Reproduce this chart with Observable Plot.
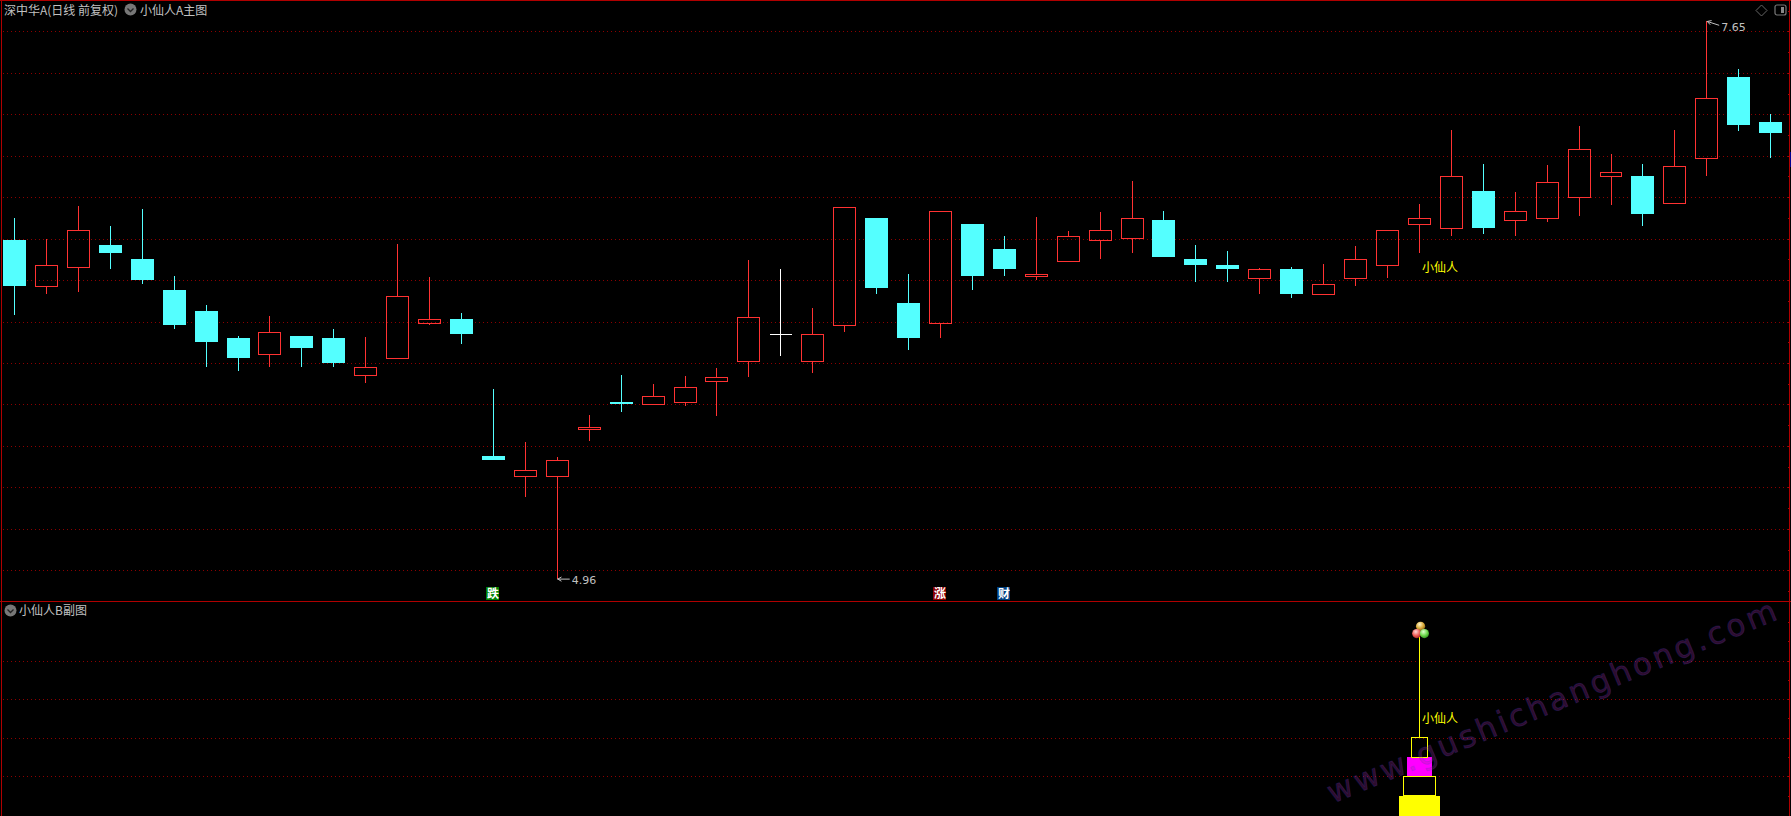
<!DOCTYPE html>
<html><head><meta charset="utf-8">
<script src="https://cdn.jsdelivr.net/npm/d3@7"></script>
<script src="https://cdn.jsdelivr.net/npm/@observablehq/plot@0.6"></script>
<style>
html,body{margin:0;padding:0;background:#000;width:1791px;height:816px;overflow:hidden;font-family:"Noto Sans CJK SC",sans-serif}
#top,#bottom{position:absolute;left:0;width:1791px}
#top{top:0;height:601px}
#bottom{top:601px;height:215px}
svg{display:block;overflow:visible;shape-rendering:crispEdges}
.smooth,.smooth *{shape-rendering:auto}
.wm text{letter-spacing:3.2px}
.lbl{position:absolute;font-size:12px;line-height:16px;color:#c0c0c0;white-space:nowrap}
.line{position:absolute;background:#b00000}
.ico{position:absolute}
</style></head>
<body>
<svg width="0" height="0" style="position:absolute" class="smooth"><defs>
<radialGradient id="ballGold" cx="40%" cy="30%" r="75%"><stop offset="0%" stop-color="#fff6c8"/><stop offset="55%" stop-color="#d9a93a"/><stop offset="100%" stop-color="#7d5a10"/></radialGradient>
<radialGradient id="ballRed" cx="40%" cy="30%" r="75%"><stop offset="0%" stop-color="#ffd8d8"/><stop offset="55%" stop-color="#f0605a"/><stop offset="100%" stop-color="#a02020"/></radialGradient>
<radialGradient id="ballGreen" cx="40%" cy="30%" r="75%"><stop offset="0%" stop-color="#e0ffd0"/><stop offset="55%" stop-color="#70d850"/><stop offset="100%" stop-color="#2a8a18"/></radialGradient>
</defs></svg>
<div id="top"></div>
<div id="bottom"></div>
<div class="line" style="left:0;top:0;width:1791px;height:1px"></div>
<div class="line" style="left:1px;top:0;width:1px;height:816px"></div>
<div class="line" style="left:1789px;top:0;width:1px;height:816px"></div>
<div class="line" style="left:0;top:601px;width:1791px;height:1px"></div>
<div class="line" style="left:1790px;top:152px;width:1px;height:15px;background:#000090"></div>
<div class="lbl" style="left:4px;top:2px">深中华A(日线 前复权)</div>
<div class="lbl" style="left:140px;top:2px">小仙人A主图</div>
<div class="lbl" style="left:19px;top:602px">小仙人B副图</div>
<svg class="ico smooth" style="left:124px;top:3px" width="13" height="13"><circle cx="6.5" cy="6.5" r="6" fill="#777"/><path d="M3.5 5.5L6.5 8.5L9.5 5.5" fill="none" stroke="#222" stroke-width="1.3"/></svg>
<svg class="ico smooth" style="left:4px;top:604px" width="13" height="13"><circle cx="6.5" cy="6.5" r="6" fill="#777"/><path d="M3.5 5.5L6.5 8.5L9.5 5.5" fill="none" stroke="#222" stroke-width="1.3"/></svg>
<svg class="ico smooth" style="left:1755px;top:4px" width="13" height="13"><path d="M6.5 1L12 6.5L6.5 12L1 6.5Z" fill="none" stroke="#666"/></svg>
<svg class="ico smooth" style="left:1774px;top:4px" width="13" height="12"><rect x="1" y="1" width="11" height="10" rx="2" fill="none" stroke="#777" stroke-width="1.2"/><rect x="7" y="3" width="3" height="6" fill="#888"/></svg>
<script>
// Daily candles, left to right (price)
const open  = [6.593,6.368,6.460,6.569,6.502,6.352,6.251,6.121,6.040,6.130,6.121,5.939,6.021,6.190,6.212,5.551,5.452,5.452,5.678,5.812,5.799,5.809,5.910,6.006,6.138,6.006,6.180,6.700,6.289,6.192,6.671,6.550,6.416,6.489,6.590,6.600,6.690,6.502,6.473,6.407,6.453,6.330,6.407,6.469,6.667,6.650,6.830,6.686,6.696,6.797,6.899,6.902,6.768,6.988,7.380,7.163];
const close = [6.371,6.471,6.640,6.531,6.400,6.183,6.101,6.024,6.148,6.072,6.000,5.979,6.322,6.211,6.140,5.532,5.482,5.531,5.690,5.802,5.839,5.883,5.931,6.220,6.138,6.138,6.751,6.362,6.121,6.732,6.420,6.453,6.428,6.611,6.640,6.698,6.511,6.473,6.453,6.452,6.333,6.380,6.500,6.640,6.698,6.901,6.651,6.732,6.872,7.031,6.920,6.719,6.949,7.277,7.148,7.110];
const high  = [6.700,6.598,6.757,6.661,6.743,6.420,6.280,6.130,6.227,6.130,6.164,6.125,6.574,6.415,6.241,5.875,5.619,5.545,5.749,5.942,5.899,5.937,5.976,6.497,6.453,6.265,6.751,6.700,6.429,6.732,6.671,6.613,6.704,6.637,6.728,6.878,6.733,6.569,6.540,6.458,6.463,6.478,6.564,6.640,6.767,7.124,6.960,6.825,6.955,7.143,7.008,6.960,7.124,7.650,7.418,7.201];
const low   = [6.232,6.333,6.343,6.453,6.381,6.164,5.981,5.961,5.981,5.981,5.981,5.904,6.021,6.183,6.092,5.532,5.354,4.960,5.624,5.764,5.799,5.794,5.746,5.932,6.035,5.952,6.150,6.333,6.063,6.121,6.352,6.420,6.400,6.489,6.502,6.531,6.511,6.391,6.391,6.333,6.314,6.330,6.371,6.410,6.531,6.613,6.622,6.613,6.680,6.709,6.762,6.661,6.768,6.902,7.119,6.989];

const priceGrid = [5.0,5.2,5.4,5.6,5.8,6.0,6.2,6.4,6.6,6.8,7.0,7.2,7.4,7.6];
const priceTicks = [4.9,5.0,5.1,5.2,5.3,5.4,5.5,5.6,5.7,5.8,5.9,6.0,6.1,6.2,6.3,6.4,6.5,6.6,6.7,6.8,6.9,7.0,7.1,7.2,7.3,7.4,7.5,7.6,7.7];

const extremeIdx = [17,53], extremePrice = [4.96,7.65], extremeText = ["4.96","7.65"], extremeTilt = [0,-0.018], extremeLabel = [4.955,7.623];
const badgeIdx = [15,29,31], badgeText = ["跌","涨","财"], badgeColor = ["#008000","#8c0000","#004080"];
const badgeLow = 4.857, badgeHigh = 4.919;
const signalIdx = 44, signalName = "小仙人", signalPrice = 6.458;

// Lower panel: stacked tower at the signal bar
const towerLow  = [-0.1,1,2,3];
const towerHigh = [1,2,3,4];
const towerHalf = [0.642,0.507,0.391,0.257];
const towerFill = ["#ffff00","none","#ff00ff","none"];
const towerStroke = ["none","#ffff00","none","#ffff00"];
const stemLow = 4, stemHigh = 9.32, signalLevel = 5;
const subGrid = [2,4,6,8];
const subTicks = [1,2,3,4,5,6,7,8,9,10];
const ballX = [44.02,43.9,44.14], ballV = [9.8,9.42,9.42], ballFill = ["url(#ballGold)","url(#ballRed)","url(#ballGreen)"];
const watermark = "www.gushichanghong.com";

const RED="#ff3232", CYAN="#54ffff", GRID="#8c0000", YEL="#ffff00", GREY="#c0c0c0";
const CJK='"Noto Sans CJK SC"';
const idx = d3.range(open.length);
const kind = i => close[i]>open[i] ? "up" : close[i]<open[i] ? "down" : "flat";
const col = i => ({up:RED,down:CYAN,flat:"#ffffff"})[kind(i)];
const xScale = {domain:[-0.4541,55.637],range:[0,1791],axis:null};
const frame = {width:1791,marginTop:0,marginRight:0,marginBottom:0,marginLeft:0,style:{background:"#000"}};
const up = idx.filter(i=>kind(i)==="up"), down = idx.filter(i=>kind(i)==="down"), flat = idx.filter(i=>kind(i)==="flat");

const topPlot = Plot.plot({...frame,height:601,
  x:xScale, y:{domain:[4.852,7.7511],range:[601,0],axis:null},
  marks:[
    Plot.ruleY(priceGrid,{y:d=>d,x1:-0.37,x2:55.55,stroke:GRID,strokeWidth:1,strokeDasharray:"1 3"}),
    Plot.ruleY(priceTicks,{y:d=>d,x1:55.55,x2:55.6,stroke:"#b00000"}),
    Plot.ruleX(idx.filter(i=>high[i]>Math.max(open[i],close[i])),{x:i=>i,y1:i=>high[i],y2:i=>Math.max(open[i],close[i]),stroke:col,strokeWidth:1,dx:-0.5}),
    Plot.ruleX(idx.filter(i=>low[i]<Math.min(open[i],close[i])),{x:i=>i,y1:i=>low[i],y2:i=>Math.min(open[i],close[i]),stroke:col,strokeWidth:1,dx:-0.5}),
    Plot.rect(up,{x1:i=>i-0.344,x2:i=>i+0.344,y1:i=>open[i],y2:i=>close[i],fill:"none",stroke:RED,strokeWidth:1}),
    Plot.rect(down,{x1:i=>i-0.36,x2:i=>i+0.36,y1:i=>open[i],y2:i=>close[i],fill:CYAN}),
    Plot.ruleY(flat,{y:i=>close[i],x1:i=>i-0.344,x2:i=>i+0.344,stroke:"#ffffff"}),
    Plot.arrow([0,1],{x1:k=>extremeIdx[k]+0.36,x2:k=>extremeIdx[k],y1:k=>extremePrice[k]+extremeTilt[k],y2:k=>extremePrice[k],bend:0,headLength:6,stroke:GREY,strokeWidth:1,className:"smooth"}),
    Plot.text([0,1],{x:k=>extremeIdx[k],y:k=>extremeLabel[k],text:k=>extremeText[k],dx:14,textAnchor:"start",fill:GREY,fontFamily:"DejaVu Sans",fontSize:11}),
    Plot.rect([0,1,2],{x1:k=>badgeIdx[k]-0.23,x2:k=>badgeIdx[k]+0.17,y1:badgeLow,y2:badgeHigh,fill:k=>badgeColor[k]}),
    Plot.text([0,1,2],{x:k=>badgeIdx[k]-0.03,y:(badgeLow+badgeHigh)/2,text:k=>badgeText[k],fill:"#fff",fontFamily:CJK,fontSize:12,fontWeight:"bold"}),
    Plot.text([0],{x:signalIdx,y:signalPrice,text:[signalName],dx:2,textAnchor:"start",fill:YEL,fontFamily:CJK,fontSize:12})
  ]});
document.getElementById("top").appendChild(topPlot);

const bottomPlot = Plot.plot({...frame,height:215,
  x:xScale, y:{domain:[-0.057,11.083],range:[215,0],axis:null},
  marks:[
    Plot.ruleY(subGrid,{y:d=>d,x1:-0.37,x2:55.55,stroke:GRID,strokeWidth:1,strokeDasharray:"1 3"}),
    Plot.ruleY(subTicks,{y:d=>d,x1:55.55,x2:55.6,stroke:"#b00000"}),
    Plot.ruleX([signalIdx],{x:d=>d,y1:stemLow,y2:stemHigh,stroke:YEL,strokeWidth:1,dx:-0.5}),
    Plot.rect([0,1,2,3],{x1:k=>signalIdx-towerHalf[k],x2:k=>signalIdx+towerHalf[k],y1:k=>towerLow[k],y2:k=>towerHigh[k],fill:k=>towerFill[k],stroke:k=>towerStroke[k],strokeWidth:1}),
    Plot.text([0],{x:signalIdx,y:signalLevel,text:[signalName],dx:2,textAnchor:"start",fill:YEL,fontFamily:CJK,fontSize:12}),
    Plot.dot([0,1,2],{x:k=>ballX[k],y:k=>ballV[k],r:4.6,fill:k=>ballFill[k],className:"smooth"}),
    Plot.text([watermark],{x:48.18,y:5.9,text:d=>d,rotate:-22.5,fill:"#a030a0",fillOpacity:0.3,stroke:"#3a3ac0",strokeOpacity:0.22,strokeWidth:1,fontFamily:"DejaVu Sans",fontSize:31,className:"wm smooth"})
  ]});
document.getElementById("bottom").appendChild(bottomPlot);
</script>
</body></html>
